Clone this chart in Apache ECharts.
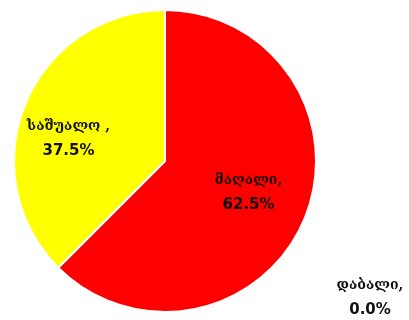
<!DOCTYPE html>
<html><head><meta charset="utf-8">
<script src="https://cdn.jsdelivr.net/npm/echarts@6/dist/echarts.min.js"></script>
<style>html,body{margin:0;padding:0;background:#fff}#c{width:409px;height:320px}</style>
</head><body><div id="c"></div>
<script>
const categories = ['მაღალი', 'საშუალო ', 'დაბალი'];
const values = [62.5, 37.5, 0.0];
const colors = ['#FF0000', '#FFFF00', '#0000FF'];

const chart = echarts.init(document.getElementById('c'), null, {renderer: 'canvas'});
const data = categories.map((n, i) => ({name: n, value: values[i], itemStyle: {color: colors[i]}}));
chart.setOption({
  animation: false,
  series: [{
    type: 'pie',
    center: [165, 161],
    radius: [0, 151],
    startAngle: 90,
    clockwise: true,
    minAngle: 0,
    stillShowZeroSum: true,
    avoidLabelOverlap: false,
    itemStyle: {borderColor: '#fff', borderWidth: 2},
    label: {
      show: true,
      position: 'inside',
      formatter: p => '{n|' + p.name + ',}\n{v|' + p.value.toFixed(1) + '%}',
      color: '#111',
      align: 'center',
      rich: {
        n: {fontFamily: "'DejaVu Serif', serif", fontWeight: 'bold', fontSize: 14, lineHeight: 25, color: '#111'},
        v: {fontFamily: "'DejaVu Sans', sans-serif", fontWeight: 'bold', fontSize: 15, lineHeight: 25, color: '#111'}
      }
    },
    labelLine: {show: false},
    labelLayout: function (p) {
      if (p.dataIndex === 2) return {x: 370, y: 298, align: 'center', verticalAlign: 'middle'};
      if (p.dataIndex === 1) return {dx: -24, dy: 8};
      if (p.dataIndex === 0) return {dx: 11, dy: 2};
      return {};
    },
    data: data
  }]
});
</script></body></html>
